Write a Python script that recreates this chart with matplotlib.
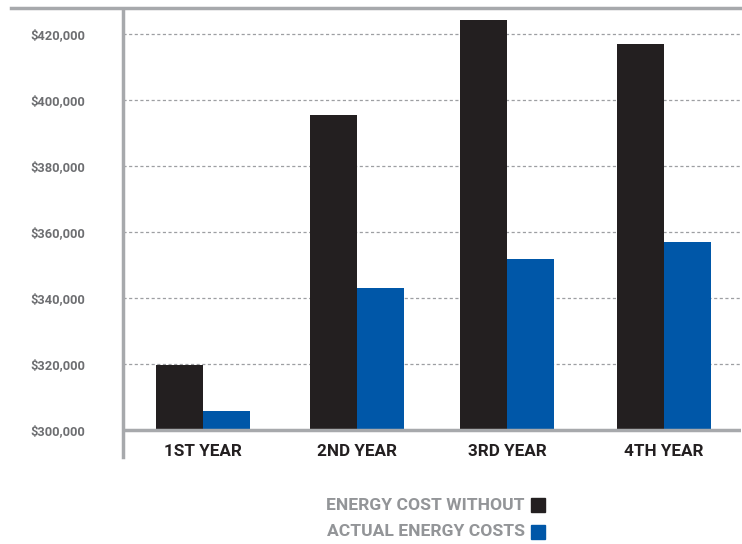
import matplotlib
matplotlib.use("Agg")
import matplotlib.pyplot as plt
from matplotlib.lines import Line2D
from matplotlib.patches import Rectangle
from matplotlib.ticker import FuncFormatter

# data
years = ["1ST YEAR", "2ND YEAR", "3RD YEAR", "4TH YEAR"]
cost_without = [319800, 395500, 424200, 417000]
actual_costs = [305800, 343000, 351800, 357000]
series_names = ["ENERGY COST WITHOUT", "ACTUAL ENERGY COSTS"]
y_ticks = [300000, 320000, 340000, 360000, 380000, 400000, 420000]

black = "#231f20"
blue = "#0057a8"
gray = "#a7a9ac"

plt.rcParams["font.family"] = ["Roboto", "DejaVu Sans"]

W, H = 742, 544
fig = plt.figure(figsize=(W / 100, H / 100), dpi=100)

# axes box in pixels: left 123, right 741, top 11, bottom 457
ax = fig.add_axes([123 / W, 1 - 457 / H, (741 - 123) / W, (457 - 11) / H])

px_per_unit = (430 - 34) / 120000
ax.set_ylim(300000 - (457 - 430) / px_per_unit, 300000 + (430 - 11) / px_per_unit)

# group centres measured in pixels -> data x positions
centres_px = [203, 357, 507, 664]
ax.set_xlim(0, 741 - 123)
xs = [c - 123 for c in centres_px]
bw = 47

ax.bar([x - bw / 2 for x in xs], [v - 300000 for v in cost_without], bw,
       bottom=300000, color=black, zorder=3)
ax.bar([x + bw / 2 for x in xs], [v - 300000 for v in actual_costs], bw,
       bottom=300000, color=blue, zorder=3)

# dotted gridlines
for t in y_ticks[1:]:
    ax.axhline(t, color="#9d9fa2", lw=0.9, ls=(0, (2.5, 2)), zorder=1)
# baseline
ax.axhline(300000, color=gray, lw=2.5, zorder=4)

for s in ["top", "right", "bottom"]:
    ax.spines[s].set_visible(False)
ax.spines["left"].set_color(gray)
ax.spines["left"].set_linewidth(2.5)

ax.set_yticks(y_ticks)
ax.yaxis.set_major_formatter(FuncFormatter(lambda v, p: f"${v:,.0f}"))
ax.tick_params(axis="y", length=0, pad=27, labelsize=9.3, labelcolor="#6d6e71")
for lbl in ax.get_yticklabels():
    lbl.set_fontweight("bold")

ax.set_xticks([])
for x, name in zip(xs, years):
    ax.text(x, 300000 - (452 - 430) / px_per_unit, name, ha="center", va="center",
            fontsize=12.3, fontweight="bold", color=black)

# top rule across the figure
fig.add_artist(Line2D([11 / W, 741 / W], [1 - 8 / H, 1 - 8 / H], color=gray, lw=2.5))

# legend drawn manually, right-aligned text with square swatch
for i, (name, col) in enumerate(zip(series_names, [black, blue])):
    yc = 505 + i * 27
    fig.text(525 / W, 1 - yc / H, name, ha="right", va="center", fontsize=12.6,
             fontweight="bold", color="#939598")
    fig.add_artist(Rectangle((531 / W, 1 - (yc + 7) / H), 14 / W, 14 / H,
                             color=col, transform=fig.transFigure))

fig.savefig("out.png", dpi=100)
